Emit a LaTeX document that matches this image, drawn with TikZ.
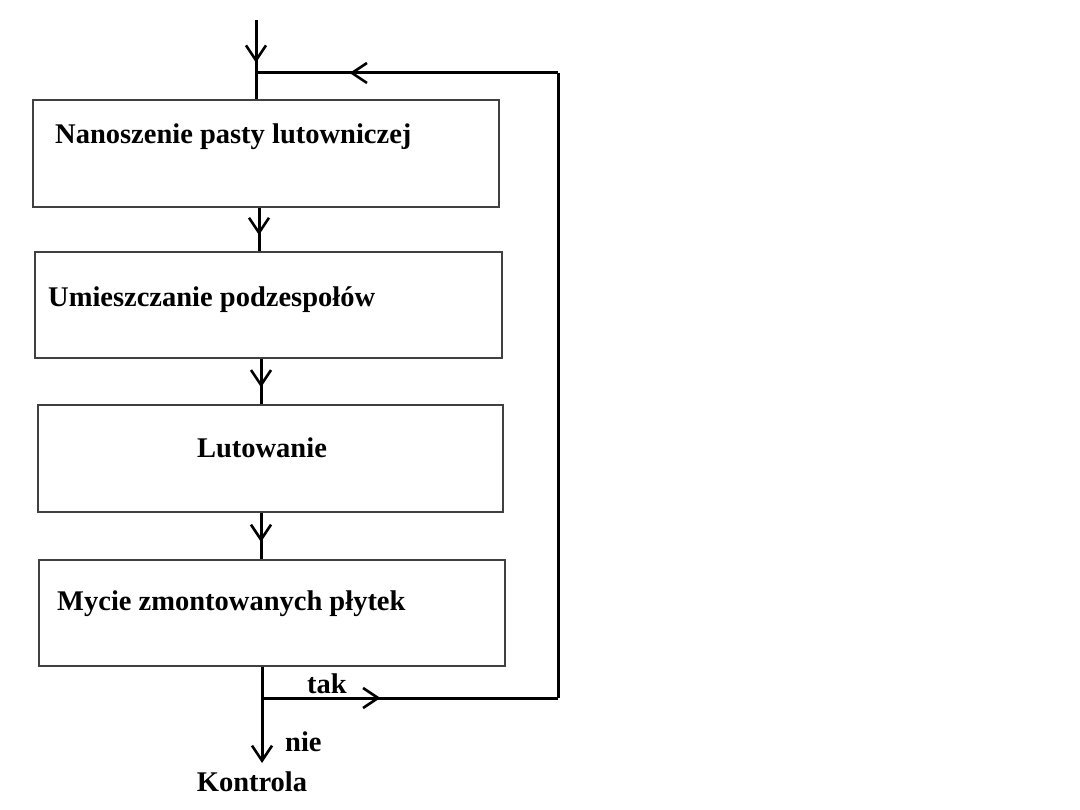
\documentclass[tikz,border=0pt]{standalone}
\usepackage{fontspec}
\setmainfont{Liberation Serif}
\usetikzlibrary{arrows.meta,decorations.markings}
\begin{document}
\begin{tikzpicture}[x=1pt,y=-1pt,
  box/.style={draw=black!75, line width=1.8pt, inner sep=0pt},
  lbl/.style={font=\bfseries\fontsize{28.5}{32}\selectfont, inner sep=0pt},
  flow/.style={line width=3pt, black},
  midarrow/.style={postaction={decorate}, decoration={markings, mark=at position #1 with {\arrow{Straight Barb[length=15pt,width=20pt,line width=2.6pt]}}}}
]
\useasboundingbox (0,0) rectangle (1080,810);
% boxes
\node[box, minimum width=466pt, minimum height=107pt] (b1) at (266,153.5) {};
\node[box, minimum width=467pt, minimum height=106pt] (b2) at (268.5,305) {};
\node[box, minimum width=465pt, minimum height=107pt] (b3) at (270.5,458.5) {};
\node[box, minimum width=466pt, minimum height=106pt] (b4) at (272,613) {};
% texts
\node[lbl, anchor=west] (t1) at (55,137) {Nanoszenie pasty lutowniczej};
\node[lbl, anchor=west] (t2) at (48,300) {Umieszczanie podzespołów};
\node[lbl] (t3) at (262,448) {Lutowanie};
\node[lbl, anchor=west] (t4) at (57,604) {Mycie zmontowanych płytek};
% coordinates
\coordinate (top) at (256,20);
\coordinate (jt) at (256,73);
\coordinate (rt) at (558,73);
\coordinate (rb) at (558,698);
\coordinate (split) at (262,698);
\coordinate (end) at (262,763);
% connectors
\draw[flow, midarrow=0.54] (top) -- (top |- b1.north);
\draw[flow, midarrow=0.69] (rt) -- (jt);
\draw[flow] (rb) -- (rt);
\draw[flow, midarrow=0.63] (259,0 |- b1.south) -- (259,0 |- b2.north);
\draw[flow, midarrow=0.63] (261,0 |- b2.south) -- (261,0 |- b3.north);
\draw[flow, midarrow=0.63] (261,0 |- b3.south) -- (261,0 |- b4.north);
\draw[flow] (262,0 |- b4.south) -- (split);
\draw[flow, midarrow=0.40] (split) -- (rb);
\draw[flow, -{Straight Barb[length=15pt,width=20pt,line width=2.6pt]}] (split) -- (end);
% labels
\node[lbl, anchor=west] (tak) at (307,684) {tak};
\node[lbl, anchor=west] (nie) at (285,742) {nie};
\node[lbl] (kon) at (252,782) {Kontrola};
\end{tikzpicture}
\end{document}
